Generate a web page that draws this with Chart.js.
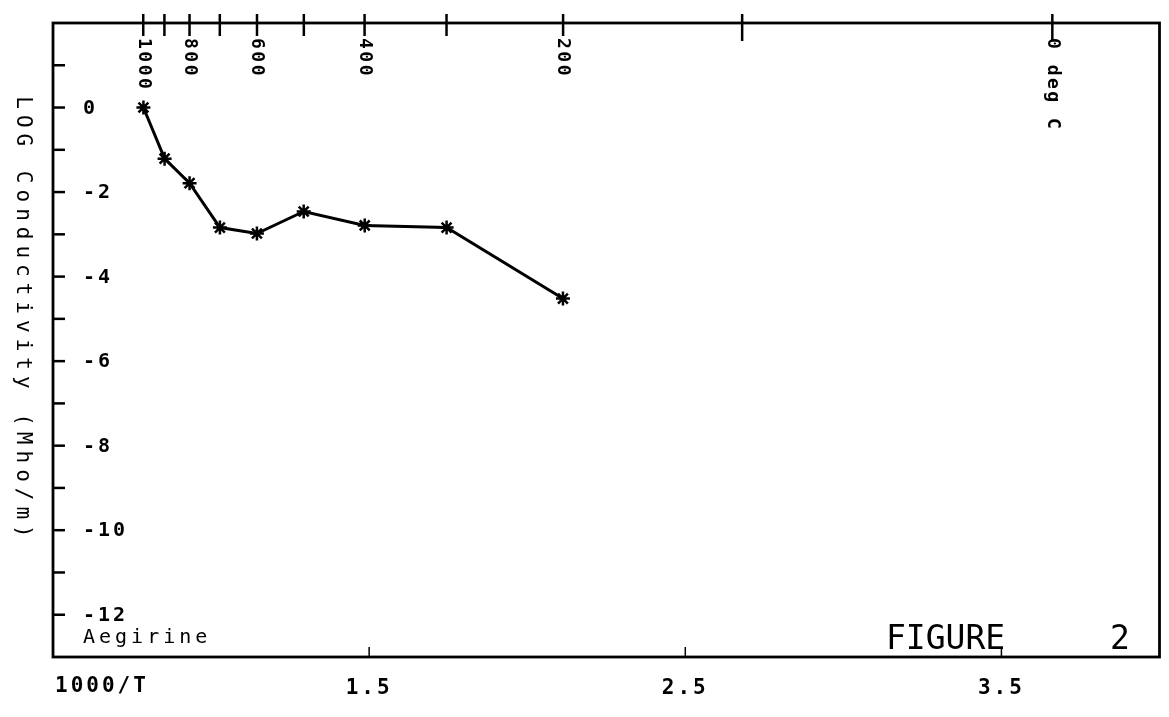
<!DOCTYPE html>
<html>
<head>
<meta charset="utf-8">
<script src="https://cdn.jsdelivr.net/npm/chart.js@4.4.0/dist/chart.umd.min.js"></script>
<style>
  html, body { margin: 0; padding: 0; background: #fff; }
</style>
</head>
<body>
<canvas id="myChart" width="1169" height="717"></canvas>
<script>
// 1000/T (T in kelvin) for each measured point, 1000 down to 200 deg C
var invTemp = [0.786, 0.853, 0.932, 1.028, 1.145, 1.293, 1.486, 1.745, 2.113];
var logCond = [0.0, -1.21, -1.79, -2.84, -2.98, -2.46, -2.79, -2.84, -4.52];

// top axis: temperature in deg C
var topTemps = [1000, 900, 800, 700, 600, 500, 400, 300, 200, 100, 0];
var topLabels = ['1000', '', '800', '', '600', '', '400', '', '200', '', '0 deg C'];

// left axis
var yTicks = [1, 0, -1, -2, -3, -4, -5, -6, -7, -8, -9, -10, -11, -12];
var yLabels = ['', '0', '', '-2', '', '-4', '', '-6', '', '-8', '', '-10', '', '-12'];

// bottom axis
var xTicks = [1.5, 2.5, 3.5];
var xLabels = ['1.5', '2.5', '3.5'];

var mono = '"DejaVu Sans Mono", "Liberation Mono", monospace';

var plotterFrame = {
  id: 'plotterFrame',
  afterDraw: function(chart) {
    var ctx = chart.ctx;
    var a = chart.chartArea;
    var xs = chart.scales.x;
    var ys = chart.scales.y;
    ctx.save();
    ctx.strokeStyle = '#000';
    ctx.fillStyle = '#000';

    // frame
    ctx.lineWidth = 2.8;
    ctx.strokeRect(a.left, a.top, a.right - a.left, a.bottom - a.top);

    // top temperature ticks and labels
    ctx.lineWidth = 2.5;
    topTemps.forEach(function(t, i) {
      var px = xs.getPixelForValue(1000 / (t + 273.15));
      ctx.beginPath();
      ctx.moveTo(px, a.top - 9);
      ctx.lineTo(px, a.top + (t <= 100 ? 18 : 13));
      ctx.stroke();
      if (topLabels[i]) {
        ctx.save();
        ctx.translate(px, a.top + 15);
        ctx.rotate(Math.PI / 2);
        ctx.font = 'bold 18px ' + mono;
        ctx.letterSpacing = '2.5px';
        ctx.textAlign = 'left';
        ctx.textBaseline = 'middle';
        ctx.fillText(topLabels[i], 0, 0);
        ctx.restore();
      }
    });

    // left ticks and labels
    ctx.font = 'bold 20px ' + mono;
    ctx.letterSpacing = '3px';
    ctx.textAlign = 'left';
    ctx.textBaseline = 'middle';
    yTicks.forEach(function(v, i) {
      var py = ys.getPixelForValue(v);
      ctx.beginPath();
      ctx.moveTo(a.left, py);
      ctx.lineTo(a.left + 12, py);
      ctx.stroke();
      if (yLabels[i]) ctx.fillText(yLabels[i], a.left + 30, py + 1);
    });
    ctx.font = '20px ' + mono;
    ctx.letterSpacing = '4px';
    ctx.fillText('Aegirine', a.left + 30, ys.getPixelForValue(-12.55));

    // bottom ticks and labels
    ctx.font = 'bold 21px ' + mono;
    ctx.letterSpacing = '3px';
    ctx.textAlign = 'center';
    xTicks.forEach(function(v, i) {
      var px = xs.getPixelForValue(v);
      ctx.lineWidth = 1.5;
      ctx.beginPath();
      ctx.moveTo(px, a.bottom);
      ctx.lineTo(px, a.bottom - 10);
      ctx.stroke();
      ctx.fillText(xLabels[i], px, a.bottom + 32);
    });
    ctx.textAlign = 'left';
    ctx.fillText('1000/T', a.left + 2, a.bottom + 30);

    // y axis title
    ctx.save();
    ctx.translate(22, 320);
    ctx.rotate(Math.PI / 2);
    ctx.font = '21px ' + mono;
    ctx.letterSpacing = '6px';
    ctx.textAlign = 'center';
    ctx.textBaseline = 'middle';
    ctx.fillText('LOG Conductivity (Mho/m)', 0, 0);
    ctx.restore();

    // figure number
    ctx.font = '33px ' + mono;
    ctx.letterSpacing = '0px';
    ctx.textAlign = 'left';
    ctx.textBaseline = 'middle';
    ctx.fillText('FIGURE', 886, 640);
    ctx.fillText('2', 1110, 640);

    ctx.restore();
  }
};

var ctx = document.getElementById('myChart').getContext('2d');

var myChart = new Chart(ctx, {
  type: 'scatter',
  data: {
    datasets: [{
      label: 'Aegirine',
      data: invTemp.map(function(x, i) { return { x: x, y: logCond[i] }; }),
      showLine: true,
      borderColor: '#000',
      borderWidth: 3,
      pointStyle: 'star',
      pointRadius: 7,
      pointBorderWidth: 2.5,
      pointBorderColor: '#000',
      pointBackgroundColor: '#000',
      tension: 0,
      clip: false
    }]
  },
  options: {
    responsive: false,
    animation: false,
    layout: { padding: { left: 53, right: 7, top: 23, bottom: 60 } },
    plugins: {
      legend: { display: false },
      tooltip: { enabled: false }
    },
    scales: {
      x: { type: 'linear', min: 0.5, max: 4.0, display: false },
      y: { type: 'linear', min: -13, max: 2, display: false }
    }
  },
  plugins: [plotterFrame]
});
</script>
</body>
</html>
